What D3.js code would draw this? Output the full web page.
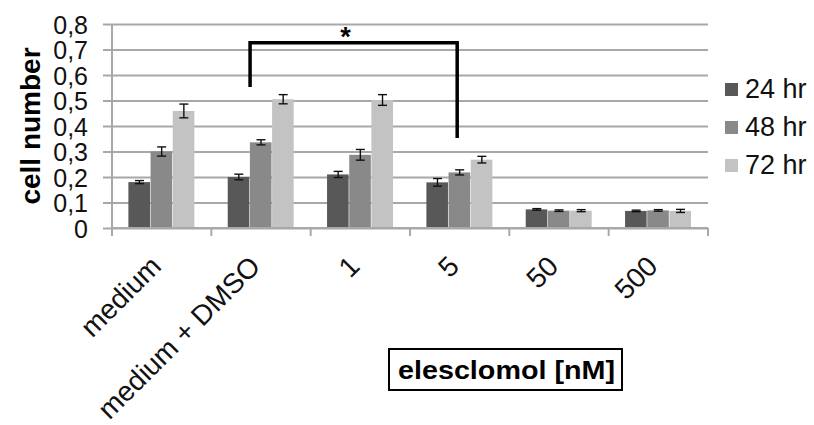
<!DOCTYPE html>
<html>
<head>
<meta charset="utf-8">
<script src="https://cdn.jsdelivr.net/npm/d3@7"></script>
<style>
  body { margin: 0; background: #fff; }
  text { font-family: "Liberation Sans", Arial, sans-serif; }
</style>
</head>
<body>
<script>
// data
var categories = ["medium", "medium + DMSO", "1", "5", "50", "500"];
var series = ["24 hr", "48 hr", "72 hr"];
var values24 = [0.180, 0.200, 0.210, 0.179, 0.073, 0.067];
var values48 = [0.300, 0.336, 0.287, 0.218, 0.068, 0.069];
var values72 = [0.459, 0.505, 0.502, 0.268, 0.068, 0.067];
var err24 = [0.006, 0.011, 0.012, 0.015, 0.003, 0.003];
var err48 = [0.018, 0.010, 0.021, 0.010, 0.003, 0.003];
var err72 = [0.027, 0.018, 0.021, 0.013, 0.004, 0.006];
var yTicks = [0, 0.1, 0.2, 0.3, 0.4, 0.5, 0.6, 0.7, 0.8];
var yTickLabels = ["0", "0,1", "0,2", "0,3", "0,4", "0,5", "0,6", "0,7", "0,8"];
var colors = ["#585858", "#898989", "#c3c3c3"];

var width = 814, height = 425;
// plot edges (note: "top" is reserved on window, so use other names)
var plotL = 112, plotR = 708, plotT = 24, plotB = 228;

var svg = d3.select("body").append("svg")
  .attr("width", width).attr("height", height);

var y = d3.scaleLinear().domain([0, 0.8]).range([plotB, plotT]);
var x0 = d3.scaleBand().domain(categories).range([plotL, plotR]).padding(0);
var bw = x0.bandwidth();
var x1 = d3.scaleBand().domain(series).range([bw * 0.165, bw * 0.835]).padding(0);

// gridlines + y labels
var yAxis = d3.axisLeft(y)
  .tickValues(yTicks)
  .tickSize(-(plotR - plotL + 9))
  .tickPadding(15)
  .tickFormat(function(d, i) { return yTickLabels[i]; });

var gy = svg.append("g")
  .attr("transform", "translate(" + (plotL - 9) + ",0)")
  .call(yAxis);
gy.select(".domain").remove();
gy.selectAll(".tick line").attr("stroke", "#a8a8a8").attr("stroke-width", 2);
gy.selectAll(".tick text")
  .attr("font-size", 25)
  .attr("font-family", "Liberation Sans, Arial, sans-serif")
  .attr("fill", "#111")
  .attr("dy", "0.36em");

// axis lines
svg.append("line")
  .attr("x1", plotL).attr("x2", plotL)
  .attr("y1", y(0.8)).attr("y2", y(0))
  .attr("stroke", "#a8a8a8").attr("stroke-width", 2);

var bounds = categories.map(function(c) { return x0(c); }).concat([plotR]);
svg.selectAll(".xtick").data(bounds).enter().append("line")
  .attr("x1", function(d) { return d; }).attr("x2", function(d) { return d; })
  .attr("y1", y(0)).attr("y2", y(0) + 8)
  .attr("stroke", "#a8a8a8").attr("stroke-width", 2);

// bars
var all = [values24, values48, values72];
var errs = [err24, err48, err72];
var rows = [];
categories.forEach(function(c, i) {
  series.forEach(function(s, j) {
    rows.push({ cat: c, ser: s, v: all[j][i], e: errs[j][i], k: j });
  });
});

svg.append("g").selectAll("rect").data(rows).enter().append("rect")
  .attr("x", function(d) { return x0(d.cat) + x1(d.ser); })
  .attr("y", function(d) { return y(d.v); })
  .attr("width", x1.bandwidth() - 0.6)
  .attr("height", function(d) { return y(0) - y(d.v); })
  .attr("fill", function(d) { return colors[d.k]; });

svg.append("line")
  .attr("x1", plotL).attr("x2", plotR)
  .attr("y1", y(0)).attr("y2", y(0))
  .attr("stroke", "#a8a8a8").attr("stroke-width", 2);

// error bars
var eb = svg.append("g").attr("stroke", "#111").attr("stroke-width", 1.4);
rows.forEach(function(d) {
  var cx = x0(d.cat) + x1(d.ser) + x1.bandwidth() / 2;
  var cap = 4.5;
  eb.append("line").attr("x1", cx).attr("x2", cx)
    .attr("y1", y(d.v + d.e)).attr("y2", y(d.v - d.e));
  eb.append("line").attr("x1", cx - cap).attr("x2", cx + cap)
    .attr("y1", y(d.v + d.e)).attr("y2", y(d.v + d.e));
  eb.append("line").attr("x1", cx - cap).attr("x2", cx + cap)
    .attr("y1", y(d.v - d.e)).attr("y2", y(d.v - d.e));
});

// significance bracket
var bx1 = x0("medium + DMSO") + bw * 0.39;
var bx2 = x0("5") + bw * 0.475;
var bracket = d3.line()([[bx1, y(0.553)], [bx1, y(0.726)], [bx2, y(0.726)], [bx2, y(0.353)]]);
svg.append("path").attr("d", bracket)
  .attr("fill", "none").attr("stroke", "#000").attr("stroke-width", 3.5);
svg.append("text")
  .attr("x", (bx1 + bx2) / 2 - 8).attr("y", y(0.726) + 3)
  .attr("text-anchor", "middle")
  .attr("font-size", 27)
  .attr("font-weight", "bold")
  .text("*");

// x labels
svg.append("g").selectAll("text").data(categories).enter().append("text")
  .attr("transform", function(d) {
    return "translate(" + (x0(d) + bw / 2 + 1) + ",268) rotate(-45)";
  })
  .attr("text-anchor", "end")
  .attr("font-size", 28)
  .attr("fill", "#111")
  .text(function(d) { return d; });

// y title
svg.append("text")
  .attr("transform", "translate(40," + ((plotT + plotB) / 2) + ") rotate(-90)")
  .attr("text-anchor", "middle")
  .attr("font-size", 28)
  .attr("font-weight", "bold")
  .text("cell number");

// x title box
svg.append("rect")
  .attr("x", 389).attr("y", 349).attr("width", 233).attr("height", 41)
  .attr("fill", "#fff").attr("stroke", "#000").attr("stroke-width", 2);
svg.append("text")
  .attr("x", 398).attr("y", 379)
  .attr("font-size", 25)
  .attr("font-weight", "bold")
  .attr("textLength", 217)
  .attr("lengthAdjust", "spacingAndGlyphs")
  .text("elesclomol [nM]");

// legend
var legendY = [88, 126, 164];
var lg = svg.append("g").selectAll("g").data(series).enter().append("g")
  .attr("transform", function(d, i) { return "translate(725," + legendY[i] + ")"; });
lg.append("rect")
  .attr("x", 0).attr("y", -5).attr("width", 13).attr("height", 13)
  .attr("fill", function(d, i) { return colors[i]; });
lg.append("text")
  .attr("x", 20).attr("dy", "0.36em")
  .attr("font-size", 27)
  .attr("fill", "#111")
  .text(function(d) { return d; });
</script>
</body>
</html>
